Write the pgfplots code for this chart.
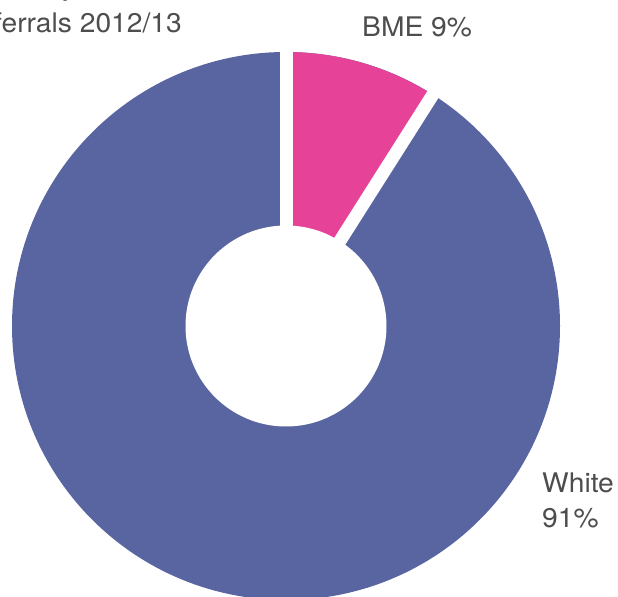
\documentclass[border=0pt]{standalone}
\usepackage{fontspec}
\setmainfont{TeX Gyre Heros}[FakeStretch=1.045]
\usepackage{pgfplots}
\pgfplotsset{compat=1.18}
\definecolor{blueC}{RGB}{88,101,161}
\definecolor{pinkC}{RGB}{230,67,152}
\definecolor{txt}{RGB}{77,77,77}
% data (percent)
\def\bme{9}
\def\white{91}
\pgfmathsetmacro\ang{90-360*\bme/(\bme+\white)}
\begin{document}
\begin{tikzpicture}
\useasboundingbox (0,0) rectangle (618bp,597bp);
\clip (0,0) rectangle (618bp,597bp);
\begin{axis}[at={(0,0)},anchor=south west,hide axis,scale only axis,
  width=618bp,height=597bp,xmin=0,xmax=618,ymin=0,ymax=597,clip=false]
\fill[blueC] (axis cs:286,271) circle[radius=274bp];
\fill[pinkC] (axis cs:286,271) -- ++(90:274bp) arc[start angle=90,end angle=\ang,radius=274bp] -- cycle;
\draw[white,line width=13bp] (axis cs:286,271) -- ++(90:285bp);
\draw[white,line width=13bp] (axis cs:286,271) -- ++(\ang:285bp);
\fill[white] (axis cs:286,271) circle[radius=100.5bp];
\begin{scope}[every node/.style={inner sep=0pt,text=txt,font=\fontsize{27bp}{35bp}\selectfont}]
\node[anchor=base west] at (axis cs:362,560) {BME \bme\%};
\node[anchor=base west] at (axis cs:542,104) {White};
\node[anchor=base west] at (axis cs:542,69) {\white\%};
\node[anchor=base east] (t2) at (axis cs:182,564) {referrals 2012/13};
\node[anchor=base west] at ([yshift=37bp]t2.base west) {Ethnicity of};
\end{scope}
\end{axis}
\end{tikzpicture}
\end{document}
